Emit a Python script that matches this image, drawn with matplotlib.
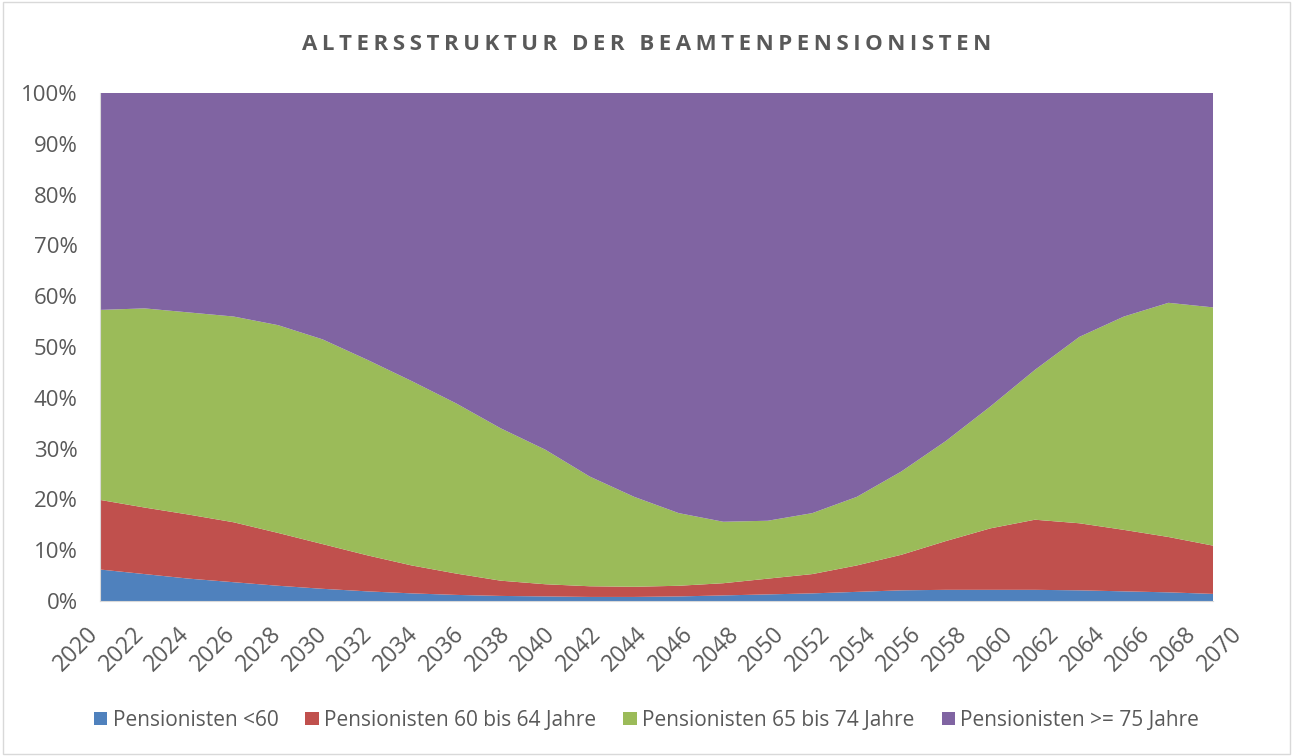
import matplotlib
matplotlib.use("Agg")
import matplotlib.pyplot as plt
import matplotlib.transforms as mtransforms
from matplotlib.patches import Rectangle

years = list(range(2020, 2071, 2))
series_names = ["Pensionisten <60", "Pensionisten 60 bis 64 Jahre",
                "Pensionisten 65 bis 74 Jahre", "Pensionisten >= 75 Jahre"]
unter_60 = [6.2, 5.3, 4.4, 3.7, 3.0, 2.4, 1.9, 1.5, 1.2, 1.0, 0.9, 0.8, 0.8,
            0.9, 1.1, 1.3, 1.5, 1.8, 2.1, 2.2, 2.2, 2.2, 2.1, 1.9, 1.7, 1.4]
j60_64 = [13.7, 13.1, 12.6, 11.8, 10.4, 8.8, 7.1, 5.5, 4.2, 3.0, 2.4, 2.1, 2.0,
          2.1, 2.4, 3.1, 3.8, 5.2, 7.0, 9.6, 12.1, 13.8, 13.2, 12.1, 10.9, 9.5]
j65_74 = [37.4, 39.2, 39.8, 40.5, 40.9, 40.3, 38.5, 36.3, 33.5, 30.0, 26.5, 21.6, 17.7,
          14.3, 12.1, 11.4, 12.0, 13.5, 16.4, 19.7, 24.0, 29.5, 36.7, 42.0, 46.1, 46.9]
ab_75 = [42.7, 42.4, 43.2, 44.0, 45.7, 48.5, 52.5, 56.7, 61.1, 66.0, 70.2, 75.5, 79.5,
         82.7, 84.4, 84.2, 82.7, 79.5, 74.5, 68.5, 61.7, 54.5, 48.0, 44.0, 41.3, 42.2]
y_ticks = [0, 10, 20, 30, 40, 50, 60, 70, 80, 90, 100]
title = "ALTERSSTRUKTUR DER BEAMTENPENSIONISTEN"

colors = ["#4F81BD", "#C0504D", "#9BBB59", "#8064A2"]
txt = "#595959"
plt.rcParams['font.family'] = ['Open Sans', 'DejaVu Sans']

fig = plt.figure(figsize=(12.93, 7.56), dpi=100)
fig.patches.append(Rectangle((0.002, 0.002), 0.996, 0.995, transform=fig.transFigure,
                             fill=False, edgecolor="#D9D9D9", linewidth=1))
ax = fig.add_axes([100/1293, 155/756, 1113/1293, 508/756])

data = [unter_60, j60_64, j65_74, ab_75]
tot = [sum(v) for v in zip(*data)]
norm = [[100*d/t for d, t in zip(s, tot)] for s in data]
ax.stackplot(years, *norm, colors=colors, labels=series_names, linewidth=0)

ax.set_xlim(2020, 2070)
ax.set_ylim(0, 100)
ax.tick_params(axis="x", length=0, pad=35)
ax.tick_params(axis="y", length=0, pad=16)
ax.set_yticks(y_ticks)
ax.set_yticklabels([f"{v}%" for v in y_ticks], fontsize=16, color=txt)
ax.set_xticks(years)
ax.set_xticklabels([str(y) for y in years], fontsize=16.5, color=txt,
                   rotation=45, ha="center", va="center", rotation_mode="anchor")
# Excel spreads the rotated labels slightly wider than the tick spacing
n = len(years)
for i, lab in enumerate(ax.get_xticklabels()):
    dx = -24 + i * 31.0 / (n - 1)
    off = mtransforms.ScaledTranslation(dx / 100, 0, fig.dpi_scale_trans)
    lab.set_transform(lab.get_transform() + off)
for s in ["top", "right"]:
    ax.spines[s].set_visible(False)
for s in ["left", "bottom"]:
    ax.spines[s].set_color("#D9D9D9")

spaced = "\u2009".join(title)
fig.text(0.5, 1 - 44/756, spaced, ha="center", va="center", fontsize=16,
         fontweight="bold", color=txt)

leg = fig.legend(loc="center", bbox_to_anchor=(0.5, 1 - 720/756), ncol=4, frameon=False,
                 fontsize=15, handlelength=0.65, handleheight=0.6, handletextpad=0.25,
                 columnspacing=1.3)
for t in leg.get_texts():
    t.set_color(txt)

fig.savefig("out.png", dpi=100)
